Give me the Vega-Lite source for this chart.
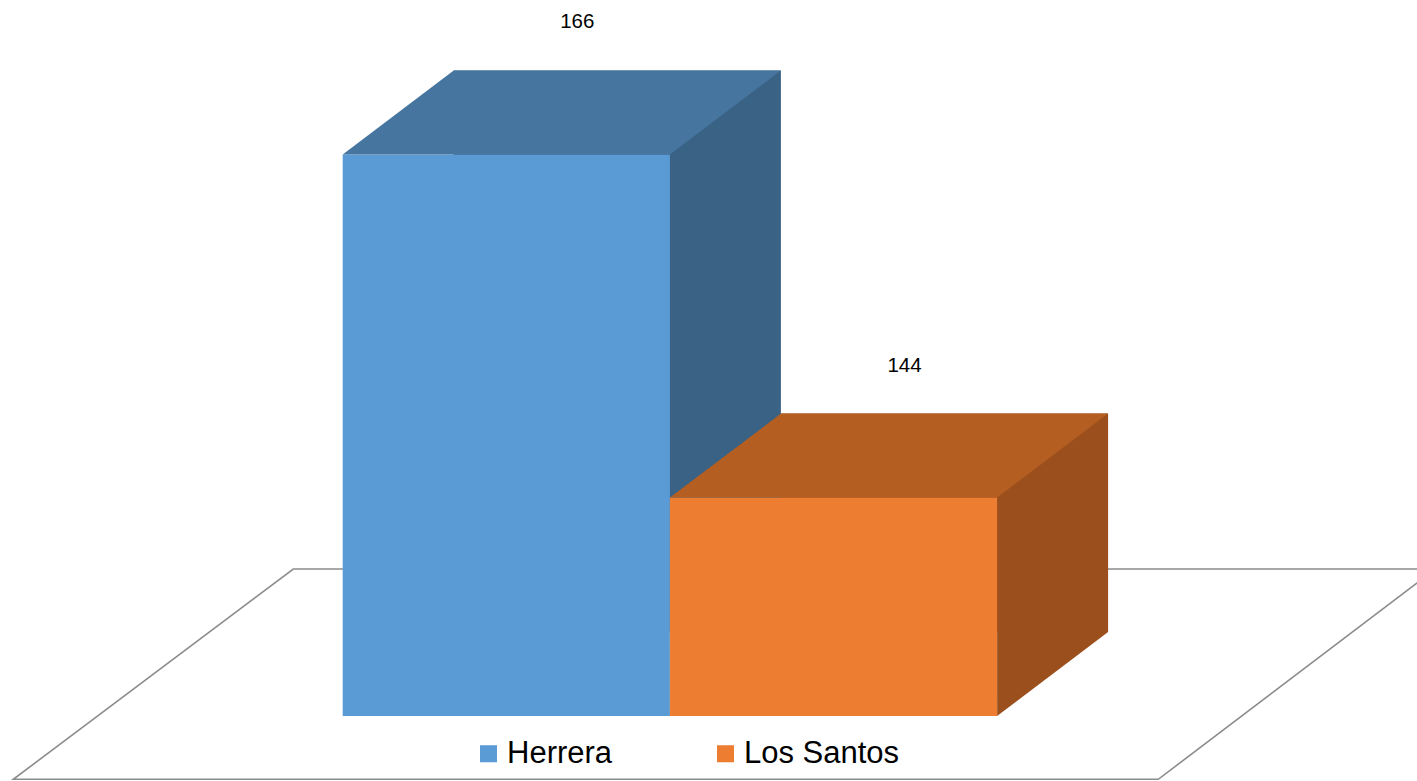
{
  "$schema": "https://vega.github.io/schema/vega-lite/v6.json",
  "width": 1308.8,
  "height": 781,
  "padding": {"left": 15.5, "top": 0, "right": 92.7, "bottom": 0},
  "autosize": {"type": "none"},
  "background": "#ffffff",
  "config": {
    "view": {"stroke": null},
    "font": "Liberation Sans"
  },
  "data": {
    "values": [
      {"region": "Herrera", "count": 166},
      {"region": "Los Santos", "count": 144}
    ]
  },
  "encoding": {
    "x": {
      "field": "region",
      "type": "nominal",
      "sort": ["Herrera", "Los Santos"],
      "axis": null,
      "scale": {"paddingInner": 0, "paddingOuter": 1, "align": 0.5}
    }
  },
  "layer": [
    {
      "data": {"values": [{"floor": "plane"}]},
      "mark": {
        "type": "point",
        "shape": "M-6.566,0.633L4.884,0.633L7.656,-1.47L-3.766,-1.47Z",
        "size": 40000,
        "filled": false,
        "stroke": "#8c8c8c",
        "strokeWidth": 1.6,
        "opacity": 1
      },
      "encoding": {
        "x": null,
        "y": {"datum": 130, "type": "quantitative", "scale": {"domain": [125.833, 175.897], "zero": false, "nice": false}, "axis": null}
      }
    },
    {
      "mark": {"type": "bar", "xOffset": 111, "yOffset": -84, "y2Offset": -84, "strokeWidth": 0},
      "encoding": {
        "y": {"field": "count", "type": "quantitative", "scale": {"domain": [125.833, 175.897], "zero": false, "nice": false}, "axis": null},
        "y2": {"datum": 130},
        "color": {"field": "region", "type": "nominal", "scale": {"domain": ["Herrera", "Los Santos"], "range": ["#396285", "#9A4F1D"]}, "legend": null}
      }
    },
    {
      "mark": {
        "type": "point",
        "shape": "M1.636,0L2.746,-0.84L1.636,-0.84Z",
        "size": 40000,
        "filled": true,
        "opacity": 1,
        "strokeWidth": 0
      },
      "encoding": {
        "y": {"datum": 130, "type": "quantitative", "scale": {"domain": [125.833, 175.897], "zero": false, "nice": false}, "axis": null},
        "color": {"field": "region", "type": "nominal", "scale": {"domain": ["Herrera", "Los Santos"], "range": ["#396285", "#9A4F1D"]}, "legend": null}
      }
    },
    {
      "mark": {"type": "bar", "strokeWidth": 0},
      "encoding": {
        "y": {"field": "count", "type": "quantitative", "scale": {"domain": [125.833, 175.897], "zero": false, "nice": false}, "axis": null},
        "y2": {"datum": 130},
        "color": {
          "field": "region",
          "type": "nominal",
          "scale": {"domain": ["Herrera", "Los Santos"], "range": ["#5B9BD5", "#ED7D31"]},
          "legend": {
            "title": null,
            "orient": "none",
            "direction": "horizontal",
            "legendX": 457.5,
            "legendY": 738,
            "symbolType": "square",
            "symbolSize": 290,
            "symbolStrokeWidth": 0,
            "labelFont": "Liberation Sans",
            "labelFontSize": 31,
            "labelColor": "#000000",
            "labelOffset": 3,
            "columnPadding": 97,
            "padding": 0
          }
        }
      }
    },
    {
      "mark": {
        "type": "point",
        "shape": "M-1.636,0L1.636,0L2.746,-0.84L-0.526,-0.84Z",
        "size": 40000,
        "filled": true,
        "opacity": 1,
        "strokeWidth": 0
      },
      "encoding": {
        "y": {"field": "count", "type": "quantitative", "scale": {"domain": [125.833, 175.897], "zero": false, "nice": false}, "axis": null},
        "color": {"field": "region", "type": "nominal", "scale": {"domain": ["Herrera", "Los Santos"], "range": ["#46769F", "#B45E22"]}, "legend": null}
      }
    },
    {
      "mark": {"type": "text", "dx": 71, "dy": -132, "fontSize": 20.5, "font": "Liberation Sans", "color": "#000000", "baseline": "middle", "align": "center"},
      "encoding": {
        "y": {"field": "count", "type": "quantitative", "scale": {"domain": [125.833, 175.897], "zero": false, "nice": false}, "axis": null},
        "text": {"field": "count", "type": "quantitative"}
      }
    }
  ],
  "resolve": {"scale": {"color": "independent"}}
}
